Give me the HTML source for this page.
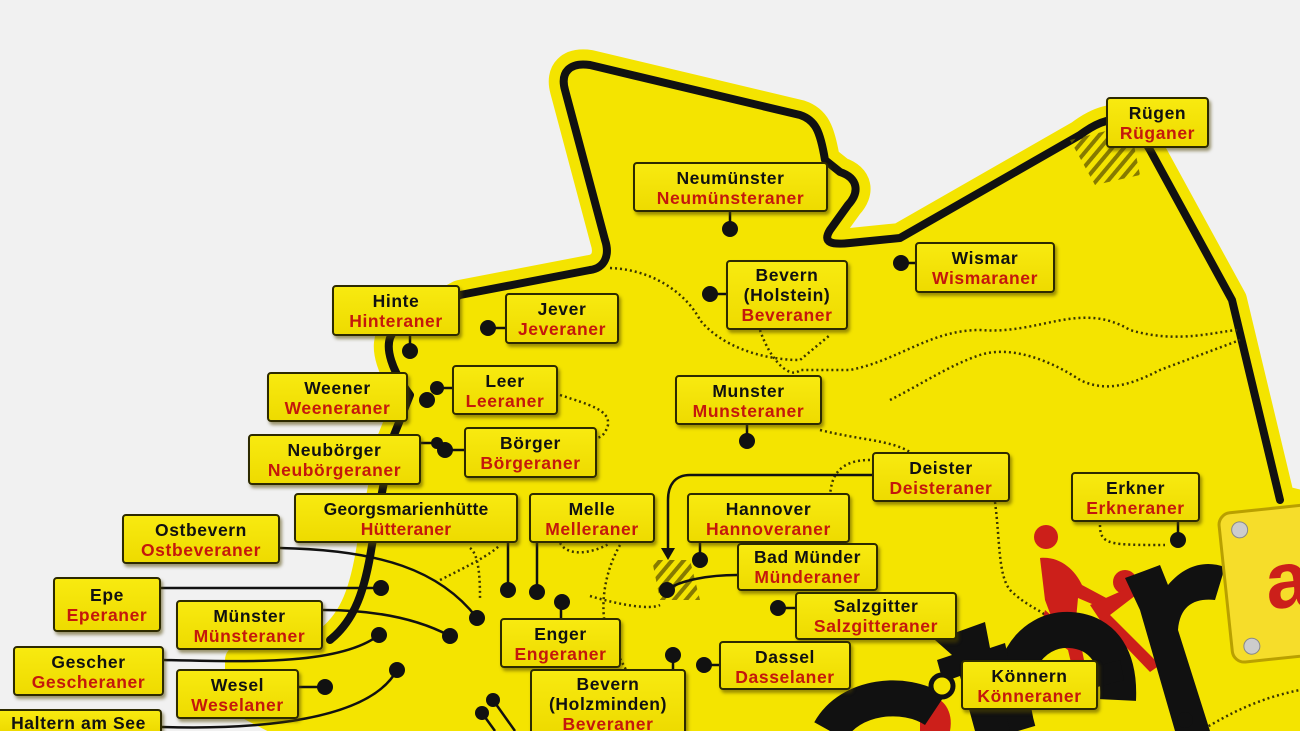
<!DOCTYPE html>
<html style="margin:0;width:1300px;height:731px;overflow:hidden"><head><meta charset="utf-8"><style>
body{margin:0;width:1300px;height:731px;overflow:hidden;background:#f1f1f1;position:relative;font-family:"Liberation Sans",sans-serif}
svg{position:absolute;left:0;top:0}
.l{position:absolute;box-sizing:border-box;background:linear-gradient(#f8ea10,#eedb00);border:2px solid #2d2a00;border-radius:4px;box-shadow:2px 3px 3px rgba(80,70,0,.55);text-align:center;font-weight:bold;font-size:17.5px;line-height:20px;padding-top:4px;letter-spacing:.6px;color:#111;white-space:nowrap;overflow:hidden}
.l b{display:block;color:#c4180c}
</style></head><body>
<svg width="1300" height="731" viewBox="0 0 1300 731">
<defs>
<pattern id="h" width="9" height="9" patternUnits="userSpaceOnUse" patternTransform="rotate(40)"><rect width="4" height="9" fill="#6a6000"/></pattern>
</defs>
<path d="M330,640 C355,620 365,590 372,545 L392,440 L410,395 C395,375 380,345 395,330 L460,295 L590,270 C605,268 610,255 605,240 L565,90 C560,72 570,62 590,65 L800,115 C815,120 820,130 825,160 L840,172 C858,178 860,192 848,205 L830,230 C822,243 832,245 850,243 L900,238 L1080,135 C1100,120 1112,118 1132,120 L1150,150 L1232,300 L1280,500 L1300,505 L1300,731 L300,731 L240,700 L240,660 Z" fill="#f4e400" stroke="#f4e400" stroke-width="30" stroke-linejoin="round"/>
<rect x="0" y="700" width="240" height="31" fill="#f1f1f1"/>
<path d="M330,640 C355,620 365,590 372,545 L392,440 L410,395 C395,375 380,345 395,330 L460,295 L590,270 C605,268 610,255 605,240 L565,90 C560,72 570,62 590,65 L800,115 C815,120 820,130 825,160 L840,172 C858,178 860,192 848,205 L830,230 C822,243 832,245 850,243 L900,238 L1080,135 C1100,120 1112,118 1132,120 L1150,150 L1232,300 L1280,500" fill="none" stroke="#111" stroke-width="8" stroke-linejoin="round" stroke-linecap="round"/>
<path d="M1070,140 L1130,125 L1140,175 L1095,185 Z" fill="url(#h)" opacity=".8"/>
<path d="M652,560 L690,560 L700,600 L660,600 Z" fill="url(#h)" opacity=".8"/>
<g fill="none" stroke="#3a3500" stroke-width="2.5" stroke-dasharray="2 3">
<path d="M610,268 C660,270 690,300 700,320 C720,345 760,360 800,360 L830,335"/>
<path d="M760,330 C770,360 790,380 800,370 L850,370 C900,360 930,330 980,330 C1040,335 1080,300 1130,330 C1180,345 1220,330 1240,330"/>
<path d="M890,400 C920,385 950,365 980,355 C1010,345 1050,360 1080,380 C1110,395 1140,380 1160,370 L1240,340"/>
<path d="M820,430 C860,440 890,440 910,452"/>
<path d="M560,395 C590,405 610,410 608,425 C605,435 600,440 590,437"/>
<path d="M870,460 C840,460 830,475 830,500 L835,540"/>
<path d="M995,502 C1000,540 998,575 1010,590 C1025,605 1040,610 1045,615"/>
<path d="M1100,525 C1100,545 1110,545 1165,545"/>
<path d="M440,580 C470,565 490,555 500,545"/>
<path d="M560,543 C570,560 600,550 610,543"/>
<path d="M620,545 C600,580 600,620 610,640 C620,660 640,690 650,731"/>
<path d="M470,548 C480,555 480,585 480,600"/>
<path d="M590,596 C620,605 650,610 660,605"/>
<path d="M1200,731 C1220,720 1250,700 1300,690"/>
</g>
<g fill="#cc1f1a">
<circle cx="1046" cy="537" r="12"/>
<path d="M1040,558 C1060,556 1075,570 1082,585 L1110,600 L1106,610 L1078,598 L1075,630 L1060,640 L1045,600 Z"/>
<circle cx="1125" cy="582" r="12"/>
<path d="M1090,605 L1135,585 L1140,592 L1110,615 L1160,665 L1150,672 L1100,620 Z"/>
<path d="M1045,610 L1080,640 L1090,690 L1078,692 L1068,650 L1040,630 Z"/>
<path d="M920,700 C935,690 955,705 950,731 L920,731 Z"/>
</g>
<g fill="none" stroke="#111" stroke-width="36">
<path d="M935,710 C905,690 850,695 830,731"/>
<path d="M1018,731 C1000,670 1030,628 1070,630 C1105,632 1120,660 1118,700"/>
</g>
<path d="M1005,690 L1120,660 L1124,680 L1010,710 Z" fill="#111"/>
<g fill="#111">
<path d="M935,640 L985,622 L990,648 L1005,643 L1010,665 L995,670 L1010,731 L975,731 L960,676 L943,682 L937,660 L952,655 Z"/>
<path d="M1125,578 L1160,565 L1168,585 C1185,565 1205,560 1225,567 L1215,600 C1195,598 1180,605 1178,630 L1210,731 L1175,731 L1140,610 Z"/>
</g>
<circle cx="942" cy="686" r="11" fill="#f4e400" stroke="#111" stroke-width="5"/>
<g transform="rotate(-6 1260 580)">
<rect x="1225" y="510" width="110" height="150" rx="12" fill="#f6dd2a" stroke="#b9a000" stroke-width="3"/>
<circle cx="1245" cy="528" r="8" fill="#ccc" stroke="#888"/>
<circle cx="1245" cy="645" r="8" fill="#ccc" stroke="#888"/>
<text x="1265" y="610" font-size="80" font-weight="bold" fill="#cc1f1a" font-family="Liberation Sans,sans-serif">a</text>
</g>
<g fill="none" stroke="#111" stroke-width="2.5">
<path d="M730,212 V229 M901,263 H915 M710,294 H726 M410,336 V351 M488,328 H505 M437,388 H452 M747,425 V441 M508,543 V590 M537,543 V592 M700,543 V560 M778,608 H795 M704,665 H719 M673,655 V669 M561,602 V618 M1178,522 V540 M325,687 H299 M445,450 H464 M421,443 H440"/>
<path d="M872,475 H690 C675,475 668,485 668,500 V552"/>
<path d="M737,575 C710,575 680,580 667,590"/>
<path d="M280,548 C380,550 440,570 477,618"/>
<path d="M161,588 H381"/>
<path d="M323,610 C380,610 420,620 450,636"/>
<path d="M164,660 C250,662 340,665 379,635"/>
<path d="M162,727 C260,730 370,720 397,670"/>
<path d="M493,700 L515,731 M482,713 L495,731"/>
</g>
<path d="M661,548 L675,548 L668,560 Z" fill="#111"/>
<g fill="#111">
<circle cx="730" cy="229" r="8"/><circle cx="901" cy="263" r="8"/><circle cx="710" cy="294" r="8"/>
<circle cx="410" cy="351" r="8"/><circle cx="488" cy="328" r="8"/><circle cx="437" cy="388" r="7"/><circle cx="427" cy="400" r="8"/>
<circle cx="747" cy="441" r="8"/><circle cx="445" cy="450" r="8"/><circle cx="437" cy="443" r="6"/>
<circle cx="508" cy="590" r="8"/><circle cx="537" cy="592" r="8"/><circle cx="562" cy="602" r="8"/>
<circle cx="700" cy="560" r="8"/><circle cx="667" cy="590" r="8"/><circle cx="778" cy="608" r="8"/>
<circle cx="704" cy="665" r="8"/><circle cx="673" cy="655" r="8"/><circle cx="477" cy="618" r="8"/>
<circle cx="381" cy="588" r="8"/><circle cx="450" cy="636" r="8"/><circle cx="379" cy="635" r="8"/>
<circle cx="325" cy="687" r="8"/><circle cx="397" cy="670" r="8"/><circle cx="493" cy="700" r="7"/>
<circle cx="482" cy="713" r="7"/><circle cx="1178" cy="540" r="8"/><circle cx="1185" cy="720" r="8"/>
</g>
</svg>
<div class="l" style="left:633px;top:162px;width:195px;height:50px">Neumünster<b>Neumünsteraner</b></div>
<div class="l" style="left:1106px;top:97px;width:103px;height:51px">Rügen<b>Rüganer</b></div>
<div class="l" style="left:915px;top:242px;width:140px;height:51px">Wismar<b>Wismaraner</b></div>
<div class="l" style="left:726px;top:260px;width:122px;height:70px;padding-top:3px">Bevern<br>(Holstein)<b>Beveraner</b></div>
<div class="l" style="left:332px;top:285px;width:128px;height:51px">Hinte<b>Hinteraner</b></div>
<div class="l" style="left:505px;top:293px;width:114px;height:51px">Jever<b>Jeveraner</b></div>
<div class="l" style="left:267px;top:372px;width:141px;height:50px">Weener<b>Weeneraner</b></div>
<div class="l" style="left:452px;top:365px;width:106px;height:50px">Leer<b>Leeraner</b></div>
<div class="l" style="left:675px;top:375px;width:147px;height:50px">Munster<b>Munsteraner</b></div>
<div class="l" style="left:248px;top:434px;width:173px;height:51px">Neubörger<b>Neubörgeraner</b></div>
<div class="l" style="left:464px;top:427px;width:133px;height:51px">Börger<b>Börgeraner</b></div>
<div class="l" style="left:872px;top:452px;width:138px;height:50px">Deister<b>Deisteraner</b></div>
<div class="l" style="left:1071px;top:472px;width:129px;height:50px">Erkner<b>Erkneraner</b></div>
<div class="l" style="left:294px;top:493px;width:224px;height:50px;letter-spacing:.2px">Georgsmarienhütte<b>Hütteraner</b></div>
<div class="l" style="left:529px;top:493px;width:126px;height:50px">Melle<b>Melleraner</b></div>
<div class="l" style="left:687px;top:493px;width:163px;height:50px">Hannover<b>Hannoveraner</b></div>
<div class="l" style="left:122px;top:514px;width:158px;height:50px">Ostbevern<b>Ostbeveraner</b></div>
<div class="l" style="left:737px;top:543px;width:141px;height:48px;padding-top:2px">Bad Münder<b>Münderaner</b></div>
<div class="l" style="left:53px;top:577px;width:108px;height:55px;padding-top:6px">Epe<b>Eperaner</b></div>
<div class="l" style="left:176px;top:600px;width:147px;height:50px">Münster<b>Münsteraner</b></div>
<div class="l" style="left:795px;top:592px;width:162px;height:48px;padding-top:2px">Salzgitter<b>Salzgitteraner</b></div>
<div class="l" style="left:500px;top:618px;width:121px;height:50px">Enger<b>Engeraner</b></div>
<div class="l" style="left:719px;top:641px;width:132px;height:49px">Dassel<b>Dasselaner</b></div>
<div class="l" style="left:13px;top:646px;width:151px;height:50px">Gescher<b>Gescheraner</b></div>
<div class="l" style="left:961px;top:660px;width:137px;height:50px">Könnern<b>Könneraner</b></div>
<div class="l" style="left:176px;top:669px;width:123px;height:50px">Wesel<b>Weselaner</b></div>
<div class="l" style="left:530px;top:669px;width:156px;height:62px;padding-top:3px;border-bottom:none;border-radius:4px 4px 0 0">Bevern<br>(Holzminden)<b>Beveraner</b></div>
<div class="l" style="left:-5px;top:709px;width:167px;height:22px;padding-top:2px;border-bottom:none;border-radius:0 4px 0 0">Haltern am See</div>
</body></html>
